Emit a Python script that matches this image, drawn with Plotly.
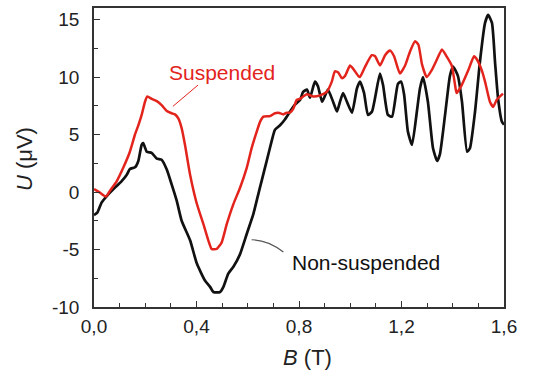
import plotly.graph_objects as go

# Magnetic field B (T) and thermoelectric voltage U (uV) for the two samples
b_nonsusp = [0.000, 0.013, 0.030, 0.050, 0.075, 0.108, 0.128, 0.140, 0.160, 0.173,
             0.186, 0.192, 0.206, 0.225, 0.245, 0.264, 0.284, 0.303, 0.323, 0.342,
             0.375, 0.401, 0.433, 0.453, 0.466, 0.492, 0.505, 0.524, 0.544, 0.570,
             0.596, 0.622, 0.641, 0.654, 0.674, 0.693, 0.706, 0.726, 0.745, 0.765,
             0.784, 0.804, 0.816, 0.831, 0.843, 0.862, 0.874, 0.890, 0.902, 0.913,
             0.933, 0.948, 0.960, 0.972, 0.987, 1.007, 1.026, 1.038, 1.054, 1.069,
             1.085, 1.116, 1.128, 1.147, 1.163, 1.186, 1.198, 1.210, 1.225, 1.241,
             1.260, 1.272, 1.284, 1.303, 1.323, 1.339, 1.350, 1.370, 1.389, 1.401,
             1.420, 1.436, 1.456, 1.467, 1.487, 1.506, 1.526, 1.538, 1.553, 1.565,
             1.577, 1.592, 1.600]
u_nonsusp = [-2.0, -1.8, -0.9, -0.35, 0.23, 0.95, 1.5, 2.0, 2.15, 2.7,
             4.1, 4.25, 3.5, 3.4, 2.9, 2.8, 1.95, 0.66, -0.78, -2.5,
             -4.2, -6.2, -7.7, -8.25, -8.7, -8.7, -8.25, -7.1, -6.5, -5.4,
             -3.65, -1.9, -0.2, 0.95, 2.7, 4.4, 5.4, 5.8, 6.3, 7.0,
             7.6, 8.0, 8.7, 8.9, 8.2, 9.6, 9.2, 7.85, 8.4, 8.9,
             7.85, 7.0, 7.85, 8.6, 7.85, 6.9, 9.0, 9.6, 8.6, 6.7,
             7.0, 10.3, 9.3, 6.7, 6.55, 9.4, 9.6, 8.5, 5.25, 4.1,
             7.0, 9.0, 10.0, 7.85, 3.8, 2.7, 3.3, 6.7, 10.1, 10.9,
             10.1, 7.85, 3.5, 3.8, 7.0, 11.3, 14.7, 15.4, 14.7, 11.3,
             8.1, 6.1, 5.85]

b_susp = [0.000, 0.023, 0.047, 0.062, 0.089, 0.114, 0.140, 0.160, 0.173, 0.186,
          0.199, 0.208, 0.225, 0.245, 0.264, 0.284, 0.303, 0.316, 0.329, 0.342,
          0.355, 0.375, 0.401, 0.427, 0.446, 0.459, 0.479, 0.498, 0.518, 0.544,
          0.570, 0.596, 0.615, 0.635, 0.648, 0.661, 0.687, 0.706, 0.719, 0.739,
          0.752, 0.765, 0.778, 0.791, 0.804, 0.830, 0.856, 0.882, 0.908, 0.928,
          0.940, 0.953, 0.967, 0.980, 0.999, 1.012, 1.031, 1.038, 1.058, 1.084,
          1.097, 1.116, 1.136, 1.155, 1.171, 1.194, 1.214, 1.233, 1.253, 1.266,
          1.280, 1.298, 1.318, 1.344, 1.358, 1.376, 1.396, 1.409, 1.415, 1.435,
          1.461, 1.483, 1.495, 1.513, 1.526, 1.545, 1.558, 1.571, 1.596]
u_susp = [0.26, -0.05, -0.4, 0.1, 0.95, 2.1, 3.5, 5.0, 5.8, 6.7,
          7.85, 8.3, 8.1, 7.9, 7.55, 7.05, 6.85, 6.75, 6.4, 5.55,
          4.1, 1.5, -1.0, -2.8, -4.2, -4.95, -4.95, -4.4, -2.8, -1.05,
          0.37, 2.1, 3.8, 5.25, 6.1, 6.55, 6.6, 6.85, 6.9, 6.75,
          6.9, 6.9, 7.25, 8.0, 8.1, 8.5, 8.3, 8.4, 8.7, 9.6,
          10.5, 10.4, 9.9, 10.1, 11.0, 10.7, 10.1, 10.0, 10.9, 11.9,
          11.8, 11.0, 11.9, 12.3, 11.8, 10.3, 11.0, 12.2, 13.1, 12.8,
          11.1, 10.0, 10.6, 11.8, 12.4, 11.8, 11.0, 9.3, 8.6, 9.3,
          10.6, 11.8, 11.5, 10.6, 9.6, 7.85, 7.4, 8.0, 8.55]

x_tickvals = [0.0, 0.4, 0.8, 1.2, 1.6]
x_ticktext = ["0,0", "0,4", "0,8", "1,2", "1,6"]
y_tickvals = [-10, -5, 0, 5, 10, 15]
y_ticktext = ["-10", "-5", "0", "5", "10", "15"]

FONT = "Liberation Sans, Arial, Helvetica, sans-serif"
AXIS_COLOR = "#333333"
RED = "#e3241d"

fig = go.Figure()
fig.add_trace(go.Scatter(x=b_nonsusp, y=u_nonsusp, mode="lines",
                         line=dict(color="#111111", width=2.7, shape="spline", smoothing=0.5),
                         showlegend=False, hoverinfo="skip"))
fig.add_trace(go.Scatter(x=b_susp, y=u_susp, mode="lines",
                         line=dict(color=RED, width=2.5, shape="spline", smoothing=0.5),
                         showlegend=False, hoverinfo="skip"))

axis_common = dict(showgrid=False, zeroline=False, showline=True, linecolor=AXIS_COLOR,
                   linewidth=1.6, mirror=True, ticks="inside", ticklen=6, tickwidth=1.3,
                   tickcolor=AXIS_COLOR, tickfont=dict(family=FONT, size=19, color="#222222"))

fig.update_xaxes(range=[0, 1.6], tickvals=x_tickvals, ticktext=x_ticktext,
                 ticklabelstandoff=1,
                 minor=dict(dtick=0.1, ticks="inside", ticklen=4, tickwidth=1.2,
                            tickcolor=AXIS_COLOR, showgrid=False),
                 **axis_common)
fig.update_yaxes(range=[-10, 16], tickvals=y_tickvals, ticktext=y_ticktext,
                 ticklabelstandoff=9,
                 minor=dict(dtick=2.5, ticks="inside", ticklen=4, tickwidth=1.2,
                            tickcolor=AXIS_COLOR, showgrid=False),
                 **axis_common)

# Curve labels with their pointer lines
fig.add_annotation(x=0.501, y=10.4, xref="x", yref="y", text="Suspended", showarrow=False,
                   font=dict(family=FONT, size=21, color=RED), xanchor="center", yanchor="middle")
fig.add_shape(type="line", xref="x", yref="y", x0=0.406, y0=9.3, x1=0.308, y1=7.45,
              line=dict(color=RED, width=1))
fig.add_annotation(x=1.061, y=-6.1, xref="x", yref="y", text="Non-suspended", showarrow=False,
                   font=dict(family=FONT, size=21, color="#111111"), xanchor="center", yanchor="middle")
fig.add_shape(type="path", xref="x", yref="y",
              path="M 0.615,-4.15 Q 0.679,-4.17 0.739,-5.22",
              line=dict(color="#555555", width=1.2))

# Axis titles
fig.add_annotation(x=0.52, y=-0.17, xref="paper", yref="paper", text="<i>B</i> (T)",
                   showarrow=False, font=dict(family=FONT, size=22, color="#222222"),
                   xanchor="center", yanchor="middle")
fig.add_annotation(x=-0.168, y=0.495, xref="paper", yref="paper", text="<i>U</i> (μV)",
                   showarrow=False, textangle=-90,
                   font=dict(family=FONT, size=22, color="#222222"),
                   xanchor="center", yanchor="middle")

fig.update_layout(width=533, height=380, margin=dict(l=94, r=29, t=6, b=73),
                  paper_bgcolor="white", plot_bgcolor="white")

fig.write_html("out.html")
